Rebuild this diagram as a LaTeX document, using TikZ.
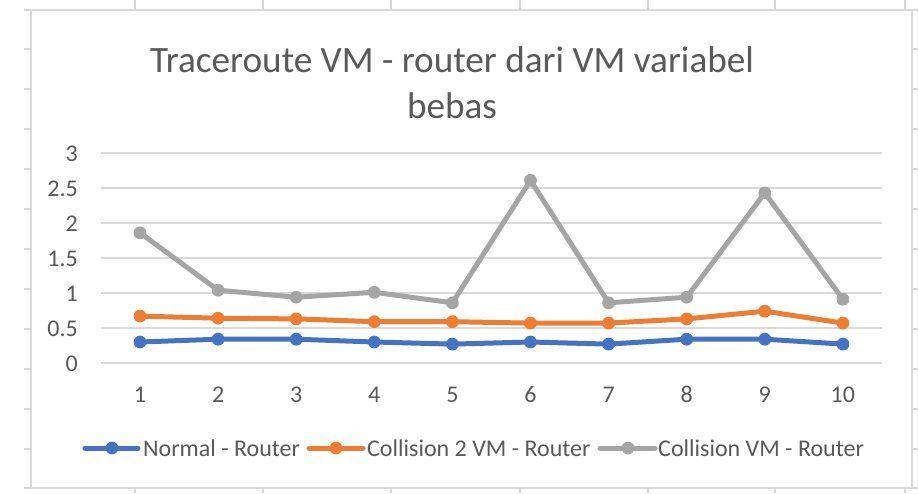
\documentclass[tikz,border=0pt]{standalone}
\usepackage{fontspec}
\setmainfont{Carlito}
\definecolor{series1}{HTML}{4472C4}
\definecolor{series2}{HTML}{ED7D31}
\definecolor{series3}{HTML}{A5A5A5}
\definecolor{labeltext}{HTML}{595959}
\definecolor{gridgray}{HTML}{D9D9D9}
\definecolor{cellline}{HTML}{D6D6D6}

% one data series: coordinate prefix, colour, ten values
\newcommand\seriesline[3]{%
  \foreach \v [count=\i] in {#3} { \coordinate (#1\i) at (\i,\v); }
  \draw[#2, serieswidth] (#11) \foreach \i in {2,...,10} { -- (#1\i) };
  \foreach \i in {1,...,10} { \fill[#2] (#1\i) circle[radius=6.4pt]; }
}

\begin{document}
\begin{tikzpicture}[x=1pt, y=-1pt,
  serieswidth/.style={line width=5pt, line join=round, line cap=round},
  ticklabel/.style={text=labeltext, inner sep=0pt, font=\fontsize{24}{28}\selectfont},
  titletext/.style={text=labeltext, inner sep=0pt, font=\fontsize{37.2}{44}\selectfont},
  cell/.style={cellline, line width=1.2pt},
  gridline/.style={gridgray, line width=1.3pt}]

\useasboundingbox (0,0) rectangle (918,493);
\fill[white] (0,0) rectangle (918,493);

% worksheet cell lines around the chart
\foreach \x in {135,263,391,520,648,775,905} {
  \draw[cell] (\x,0) -- (\x,10);
  \draw[cell] (\x,488) -- (\x,493);
}
\foreach \y in {10,49,89,129,169,209,249,289,329,369,409,449,488} {
  \draw[cell] (24,\y) -- (31,\y);
  \draw[cell] (912,\y) -- (918,\y);
}

% chart area
\draw[gridgray, line width=1.3pt, fill=white] (31,10) rectangle (912,488);

% title
\node[titletext, anchor=base] (title1) at (452,72) {Traceroute VM - router dari VM variabel};
\node[titletext, anchor=base] (title2) at (452,118) {bebas};

% horizontal gridlines and value axis labels
\foreach \v/\lab [count=\k] in {0/0,0.5/0.5,1/1,1.5/1.5,2/2,2.5/2.5,3/3} {
  \draw[gridline] (101,363-70*\v) -- (882,363-70*\v);
  \node[ticklabel, anchor=base east] (ylab\k) at (78,363-70*\v+8.5) {\lab};
}

% category axis labels
\foreach \i in {1,...,10} {
  \node[ticklabel, anchor=base] (xlab\i) at (140+78.1*\i-78.1,402) {\i};
}

% data series
\begin{scope}[shift={(61.9,363)}, x=78.1pt, y=70pt]
  \seriesline{b}{series1}{0.30,0.34,0.34,0.30,0.27,0.30,0.27,0.34,0.34,0.27}
  \seriesline{o}{series2}{0.67,0.64,0.63,0.59,0.59,0.57,0.57,0.63,0.74,0.57}
  \seriesline{g}{series3}{1.86,1.04,0.94,1.01,0.86,2.61,0.86,0.94,2.43,0.91}
\end{scope}

% legend
\coordinate (lb1) at (85,448);  \coordinate (lb2) at (138,448); \coordinate (lbm) at (112,448);
\coordinate (lo1) at (309,448); \coordinate (lo2) at (363,448); \coordinate (lom) at (336,448);
\coordinate (lg1) at (600,448); \coordinate (lg2) at (655,448); \coordinate (lgm) at (628,448);
\draw[series1, serieswidth] (lb1) -- (lb2);
\fill[series1] (lbm) circle[radius=6.4pt];
\draw[series2, serieswidth] (lo1) -- (lo2);
\fill[series2] (lom) circle[radius=6.4pt];
\draw[series3, serieswidth] (lg1) -- (lg2);
\fill[series3] (lgm) circle[radius=6.4pt];
\node[ticklabel, anchor=base west] (leg1) at (143,456) {Normal - Router};
\node[ticklabel, anchor=base west] (leg2) at (367,456) {Collision 2 VM - Router};
\node[ticklabel, anchor=base west] (leg3) at (658,456) {Collision VM - Router};

\end{tikzpicture}
\end{document}
